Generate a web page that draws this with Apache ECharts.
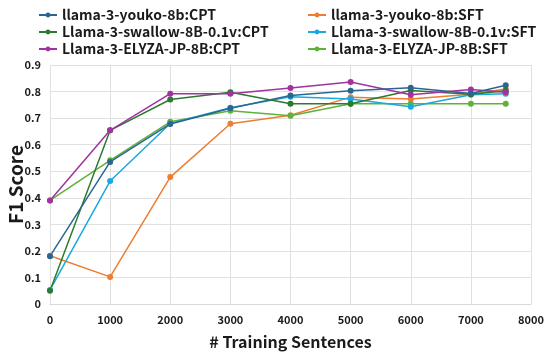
<!DOCTYPE html>
<html>
<head>
<meta charset="utf-8">
<script src="https://cdn.jsdelivr.net/npm/echarts@6/dist/echarts.min.js"></script>
<style>
  html, body { margin: 0; padding: 0; background: #fff; }
  #chart { width: 546px; height: 354px; }
</style>
</head>
<body>
<div id="chart"></div>
<script>
var xs = [0, 1000, 2000, 3000, 4000, 5000, 6000, 7000, 7580];

var names = [
    'llama-3-youko-8b:CPT',
    'Llama-3-swallow-8B-0.1v:CPT',
    'Llama-3-ELYZA-JP-8B:CPT',
    'llama-3-youko-8b:SFT',
    'Llama-3-swallow-8B-0.1v:SFT',
    'Llama-3-ELYZA-JP-8B:SFT'
];
var colors = ['#2C6591', '#2A7A30', '#A132A0', '#ED7D31', '#1AA9DE', '#5DB33A'];

var youkoCPT   = [0.18, 0.535, 0.678, 0.737, 0.785, 0.803, 0.814, 0.793, 0.824];
var swallowCPT = [0.05, 0.654, 0.770, 0.797, 0.754, 0.754, 0.804, 0.790, 0.803];
var elyzaCPT   = [0.39, 0.654, 0.792, 0.792, 0.813, 0.836, 0.788, 0.808, 0.797];
var youkoSFT   = [0.182, 0.102, 0.478, 0.679, 0.711, 0.779, 0.772, 0.790, 0.810];
var swallowSFT = [0.053, 0.463, 0.680, 0.739, 0.780, 0.772, 0.743, 0.788, 0.792];
var elyzaSFT   = [0.39, 0.541, 0.686, 0.728, 0.709, 0.754, 0.754, 0.754, 0.754];

var yTicks = [0, 0.1, 0.2, 0.3, 0.4, 0.5, 0.6, 0.7, 0.8, 0.9];

var allData = [youkoCPT, swallowCPT, elyzaCPT, youkoSFT, swallowSFT, elyzaSFT];
// draw order: SFT under CPT roughly like the original
var order = [3, 5, 4, 1, 2, 0];

var font = '"Noto Sans CJK JP", "Noto Sans", sans-serif';

var myChart = echarts.init(document.getElementById('chart'));

var series = [];
order.forEach(function (k) {
    series.push({
        name: names[k],
        type: 'line',
        color: colors[k],
        symbol: 'circle',
        symbolSize: 6,
        lineStyle: { width: 1.5 },
        animation: false,
        data: xs.map(function (x, i) { return [x, allData[k][i]]; })
    });
});

var legendText = { fontFamily: font, fontSize: 14, fontWeight: 'bold', color: '#1a1a1a' };

option = {
    backgroundColor: '#fff',
    legend: [
        {
            data: [names[0], names[1], names[2]],
            orient: 'vertical',
            left: 33, top: 3,
            itemWidth: 18, itemHeight: 6, itemGap: 3,
            textStyle: legendText
        },
        {
            data: [names[3], names[4], names[5]],
            orient: 'vertical',
            left: 302, top: 3,
            itemWidth: 18, itemHeight: 6, itemGap: 3,
            textStyle: legendText
        }
    ],
    grid: { left: 50, right: 15, top: 65, bottom: 50, outerBoundsMode: 'none' },
    xAxis: {
        type: 'value',
        min: 0, max: 8000, interval: 1000,
        name: '# Training Sentences',
        nameLocation: 'middle',
        nameGap: 30,
        nameTextStyle: { fontFamily: font, fontSize: 16, fontWeight: 'bold', color: '#1a1a1a' },
        axisLine: { show: true, lineStyle: { color: '#d9d9d9' } },
        axisTick: { show: false },
        axisLabel: {
            fontFamily: font, fontSize: 11, fontWeight: 'bold', color: '#1a1a1a', margin: 10,
            formatter: function (v) { return String(v); }
        },
        splitLine: { show: true, lineStyle: { color: '#e0e0e0' } }
    },
    yAxis: {
        type: 'value',
        min: 0, max: 0.9, interval: 0.1,
        name: 'F1 Score',
        nameLocation: 'middle',
        nameGap: 25,
        nameMoveOverlap: false,
        nameTextStyle: { fontFamily: font, fontSize: 19, fontWeight: 'bold', color: '#1a1a1a' },
        axisLine: { show: false },
        axisTick: { show: false },
        axisLabel: {
            fontFamily: font, fontSize: 11, fontWeight: 'bold', color: '#1a1a1a', margin: 9,
            formatter: function (v) {
                var t = yTicks.find(function (y) { return Math.abs(y - v) < 1e-6; });
                return t === 0 ? '0' : t.toFixed(1);
            }
        },
        splitLine: { show: true, lineStyle: { color: '#e0e0e0' } }
    },
    series: series
};

myChart.setOption(option);
</script>
</body>
</html>
